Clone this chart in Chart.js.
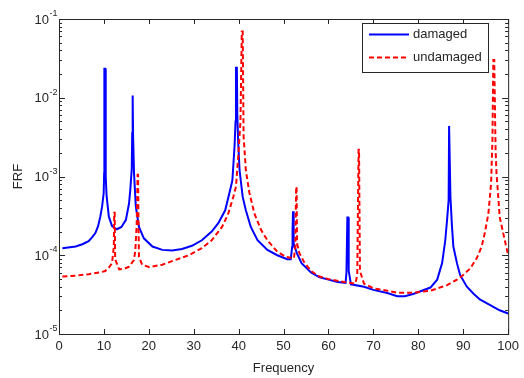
<!DOCTYPE html>
<html>
<head>
<meta charset="utf-8">
<script src="https://cdn.jsdelivr.net/npm/chart.js@4.4.1/dist/chart.umd.min.js"></script>
<style>
  html, body { margin: 0; padding: 0; background: #fff; }
  #wrap { width: 524px; height: 378px; position: relative; }
</style>
</head>
<body>
<div id="wrap"><canvas id="frf-chart"></canvas></div>
<script>
// FRF magnitude vs frequency
const damagedFreq = [
    0.75, 3.7, 5.2, 6.6, 7.4, 8.1, 8.7, 9.2, 9.6, 9.95,
    10.05, 10.1, 10.3, 10.4, 10.6, 11.1, 11.8, 12.9, 13.9, 14.9,
    15.6, 15.9, 16.2, 16.3, 16.4, 16.5, 16.7, 17.1, 17.8, 18.9,
    20.8, 23.0, 25.2, 27.4, 29.6, 31.8, 34.0, 35.5, 37.0, 38.1,
    38.6, 39.1, 39.3, 39.4, 39.6, 39.7, 39.9, 40.2, 40.9, 41.6,
    42.7, 44.2, 46.4, 48.6, 50.8, 51.6, 51.9, 52.0, 52.1, 52.2,
    52.3, 53.0, 54.0, 56.1, 58.0, 60.0, 62.0, 63.8, 64.0, 64.2,
    64.4, 64.5, 65.0, 67.9, 70.0, 73.1, 75.3, 77.0, 79.0, 82.7,
    84.2, 85.3, 86.0, 86.4, 86.75, 86.85, 87.05, 87.15, 87.5, 87.8,
    88.6, 89.3, 90.8, 92.3, 93.7, 95.9, 98.1, 100];
const damagedFRF = [
    1.23e-4, 1.29e-4, 1.38e-4, 1.51e-4, 1.70e-4, 1.91e-4, 2.34e-4, 3.09e-4, 4.17e-4, 6.17e-4,
    1.10e-3, 2.34e-2, 2.34e-2, 1.0e-3, 5.62e-4, 3.09e-4, 2.34e-4, 2.14e-4, 2.29e-4, 2.82e-4,
    4.57e-4, 7.08e-4, 1.26e-3, 3.55e-3, 1.07e-2, 3.16e-3, 1.12e-3, 4.17e-4, 2.29e-4, 1.64e-4,
    1.29e-4, 1.17e-4, 1.15e-4, 1.20e-4, 1.32e-4, 1.55e-4, 2.0e-4, 2.57e-4, 3.72e-4, 6.76e-4,
    8.91e-4, 2.51e-3, 5.01e-3, 2.40e-2, 2.40e-2, 6.03e-3, 2.69e-3, 1.20e-3, 5.50e-4, 3.72e-4,
    2.29e-4, 1.55e-4, 1.17e-4, 1.0e-4, 8.91e-5, 8.91e-5, 1.26e-4, 2.14e-4, 3.63e-4, 3.63e-4,
    1.41e-4, 1.05e-4, 7.94e-5, 6.03e-5, 5.25e-5, 4.90e-5, 4.57e-5, 4.47e-5, 6.03e-5, 3.02e-4,
    3.02e-4, 6.31e-5, 4.27e-5, 3.98e-5, 3.63e-5, 3.31e-5, 3.02e-5, 3.02e-5, 3.24e-5, 3.89e-5,
    4.90e-5, 7.94e-5, 1.55e-4, 2.82e-4, 5.01e-4, 4.37e-3, 4.37e-3, 5.50e-4, 2.29e-4, 1.29e-4,
    7.94e-5, 5.62e-5, 3.98e-5, 3.24e-5, 2.75e-5, 2.34e-5, 2.0e-5, 1.82e-5];

const undamagedFreq = [
    0.75, 3.7, 6.6, 9.0, 10.3, 11.2, 11.8, 12.2, 12.3, 12.4,
    12.5, 13.4, 14.6, 15.6, 16.7, 17.0, 17.3, 17.5, 17.6, 17.7,
    17.8, 18.5, 20.0, 23.0, 25.9, 28.9, 31.8, 34.0, 36.3, 37.7,
    38.8, 39.4, 39.9, 40.4, 40.7, 40.9, 41.1, 41.6, 42.4, 43.5,
    45.0, 46.4, 48.6, 50.5, 52.3, 52.6, 52.8, 52.9, 53.0, 53.5,
    54.5, 56.1, 58.0, 59.8, 63.5, 66.0, 66.4, 66.7, 66.8, 67.0,
    67.9, 70.0, 73.1, 75.3, 79.0, 82.7, 86.4, 88.6, 90.0, 91.5,
    93.0, 94.1, 94.8, 95.6, 96.2, 96.5, 96.7, 96.9, 97.2, 97.4,
    97.8, 98.1, 98.9, 100];
const undamagedFRF = [
    5.37e-5, 5.50e-5, 5.75e-5, 6.03e-5, 6.31e-5, 7.08e-5, 7.94e-5, 1.26e-4, 3.47e-4, 3.47e-4,
    8.91e-5, 6.61e-5, 6.76e-5, 7.16e-5, 8.71e-5, 1.17e-4, 2.51e-4, 1.05e-3, 1.05e-3, 2.51e-4,
    9.55e-5, 7.59e-5, 7.08e-5, 7.59e-5, 8.71e-5, 1.0e-4, 1.23e-4, 1.55e-4, 2.29e-4, 3.39e-4,
    5.50e-4, 7.41e-4, 1.78e-3, 5.01e-3, 6.92e-2, 6.92e-2, 3.24e-3, 1.20e-3, 6.17e-4, 3.39e-4,
    2.09e-4, 1.55e-4, 1.11e-4, 9.55e-5, 9.12e-5, 1.26e-4, 7.41e-4, 7.41e-4, 1.41e-4, 1.07e-4,
    8.32e-5, 6.31e-5, 5.37e-5, 5.01e-5, 4.57e-5, 4.37e-5, 5.62e-5, 2.19e-3, 2.19e-3, 6.31e-5,
    4.37e-5, 3.80e-5, 3.55e-5, 3.35e-5, 3.35e-5, 3.55e-5, 4.17e-5, 4.90e-5, 5.62e-5, 6.76e-5,
    9.12e-5, 1.29e-4, 1.91e-4, 3.39e-4, 8.13e-4, 2.88e-3, 3.02e-2, 3.02e-2, 2.19e-3, 1.10e-3,
    5.50e-4, 3.09e-4, 1.91e-4, 1.0e-4];

const seriesNames = ['damaged', 'undamaged'];
const xTickValues = [0, 10, 20, 30, 40, 50, 60, 70, 80, 90, 100];
const yTickExponents = [-5, -4, -3, -2, -1];

const axisInk = '#262626';
const fontFamily = '"Liberation Sans", Arial, sans-serif';

function toPoints(xs, ys) {
    return xs.map((f, i) => ({ x: f, y: ys[i] }));
}

// box, inward ticks, 10^n labels and the legend, drawn like the MATLAB figure
const matlabFrame = {
    id: 'matlabFrame',
    afterDraw(chart) {
        const { ctx, chartArea: a, scales } = chart;
        const xs = scales.x, ys = scales.y;
        ctx.save();
        ctx.strokeStyle = axisInk;
        ctx.lineWidth = 1;
        ctx.strokeRect(a.left + 0.5, a.top + 0.5, a.right - a.left, a.bottom - a.top);

        ctx.beginPath();
        xTickValues.forEach(v => {
            const px = Math.round(xs.getPixelForValue(v)) + 0.5;
            ctx.moveTo(px, a.bottom); ctx.lineTo(px, a.bottom - 5);
            ctx.moveTo(px, a.top); ctx.lineTo(px, a.top + 5);
        });
        yTickExponents.forEach(e => {
            if (e === yTickExponents[yTickExponents.length - 1]) return;
            for (let m = 1; m <= 9; m++) {
                const py = Math.round(ys.getPixelForValue(m * Math.pow(10, e))) + 0.5;
                const len = m === 1 ? 6 : 3;
                ctx.moveTo(a.left, py); ctx.lineTo(a.left + len, py);
                ctx.moveTo(a.right, py); ctx.lineTo(a.right - len, py);
            }
        });
        ctx.stroke();

        // y tick labels with superscript exponent
        ctx.fillStyle = axisInk;
        yTickExponents.forEach(e => {
            const py = ys.getPixelForValue(Math.pow(10, e));
            ctx.font = '13px ' + fontFamily;
            ctx.textAlign = 'right';
            ctx.textBaseline = 'middle';
            ctx.fillText('10', a.left - 10, py + 1);
            ctx.font = '9px ' + fontFamily;
            ctx.textAlign = 'left';
            ctx.textBaseline = 'alphabetic';
            ctx.fillText(String(e), a.left - 9.5, py - 3);
        });

        // legend box, top right inside the axes
        const lx = 362, ly = 23, lw = 126, lh = 49;
        ctx.fillStyle = '#ffffff';
        ctx.fillRect(lx, ly, lw, lh);
        ctx.strokeRect(lx + 0.5, ly + 0.5, lw, lh);
        chart.data.datasets.forEach((ds, i) => {
            const rowY = ly + 11.5 + i * 23;
            ctx.strokeStyle = ds.borderColor;
            ctx.lineWidth = ds.borderWidth;
            ctx.setLineDash(ds.borderDash || []);
            ctx.beginPath();
            ctx.moveTo(lx + 7, rowY); ctx.lineTo(lx + 47, rowY);
            ctx.stroke();
            ctx.setLineDash([]);
            ctx.fillStyle = axisInk;
            ctx.font = '13px ' + fontFamily;
            ctx.textAlign = 'left';
            ctx.textBaseline = 'middle';
            ctx.fillText(ds.label, lx + 51, rowY);
        });
        ctx.restore();
    }
};

new Chart(document.getElementById('frf-chart'), {
    type: 'line',
    data: {
        datasets: [
            {
                label: seriesNames[0],
                data: toPoints(damagedFreq, damagedFRF),
                borderColor: '#0000ff',
                borderWidth: 2,
                pointRadius: 0,
                tension: 0,
                order: 2
            },
            {
                label: seriesNames[1],
                data: toPoints(undamagedFreq, undamagedFRF),
                borderColor: '#ff0000',
                borderWidth: 2,
                borderDash: [5, 3],
                pointRadius: 0,
                tension: 0,
                order: 1
            }
        ]
    },
    options: {
        responsive: true,
        maintainAspectRatio: false,
        animation: false,
        layout: { padding: { top: 19, right: 12, left: 0, bottom: 0 } },
        plugins: {
            legend: { display: false },
            tooltip: { enabled: false }
        },
        scales: {
            x: {
                type: 'linear',
                min: 0,
                max: 100,
                grid: { display: false, drawTicks: false },
                border: { display: false },
                ticks: {
                    stepSize: 10,
                    padding: 5,
                    color: axisInk,
                    font: { family: fontFamily, size: 13 }
                },
                title: {
                    display: true,
                    text: 'Frequency',
                    color: axisInk,
                    font: { family: fontFamily, size: 13 },
                    padding: { top: 0, bottom: 2 }
                },
                afterFit(scale) { scale.height = 44; }
            },
            y: {
                type: 'logarithmic',
                min: 1e-5,
                max: 1e-1,
                grid: { display: false, drawTicks: false },
                border: { display: false },
                ticks: { display: false },
                title: {
                    display: true,
                    text: 'FRF',
                    color: axisInk,
                    font: { family: fontFamily, size: 13 },
                    padding: { top: 11, bottom: 0 }
                },
                afterFit(scale) { scale.width = 59; }
            }
        }
    },
    plugins: [matlabFrame]
});
</script>
</body>
</html>
